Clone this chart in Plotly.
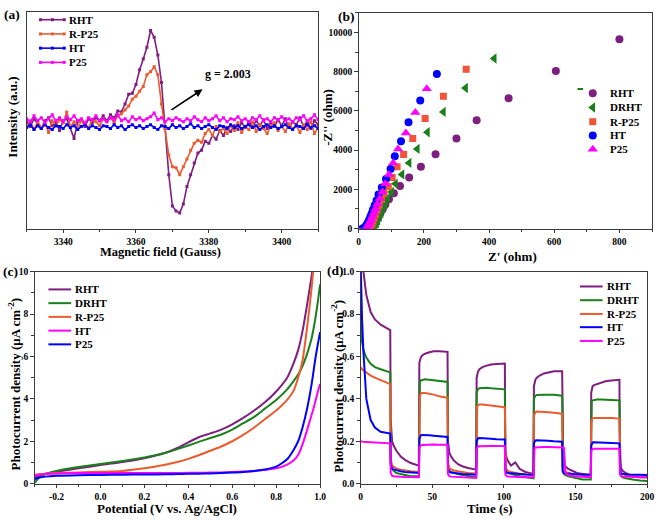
import plotly.graph_objects as go

W, H = 660, 520
FONT = "Liberation Serif"
PURPLE = "#7E1E80"
GREEN = "#1A801A"
ORANGE = "#EC5B2E"
BLUE = "#0000FF"
MAGENTA = "#FF00FF"
AXIS_COLOR = "#3a3a3a"

# ---------------- (a) EPR spectra ----------------
EPR_FIELD = list(range(3330, 3411))
EPR_RHT = [
    0.02, -0.03, 0.05, 0.00, -0.05, 0.03, 0.06, -0.02, 0.01, -0.07,
    0.03, 0.05, -0.04, -0.15, 0.02, 0.04, -0.03, 0.05, 0.01, 0.06,
    0.03, 0.08, 0.03, 0.09, 0.06, 0.13, 0.12, 0.20, 0.30, 0.31,
    0.40, 0.55, 0.66, 0.78, 0.95, 0.88, 0.70, 0.42, -0.05, -0.52,
    -0.84, -0.89, -0.91, -0.82, -0.64, -0.52, -0.40, -0.30, -0.27, -0.18,
    -0.20, -0.12, -0.16, -0.07, -0.12, -0.04, -0.08, -0.02, -0.06, 0.01,
    -0.04, 0.02, -0.03, 0.03, -0.02, 0.04, -0.05, 0.01, -0.03, 0.04,
    -0.02, 0.05, -0.04, 0.02, -0.01, 0.06, -0.03, 0.02, -0.05, 0.03,
    -0.01]
EPR_RP25 = [
    -0.02, 0.03, -0.06, 0.02, -0.04, 0.01, -0.09, 0.03, -0.02, 0.04,
    0.01, 0.12, -0.03, 0.02, -0.05, 0.03, 0.00, -0.04, 0.04, 0.02,
    -0.02, 0.05, 0.02, 0.06, 0.01, 0.08, 0.10, 0.14, 0.18, 0.25,
    0.28, 0.33, 0.38, 0.50, 0.53, 0.58, 0.50, 0.20, -0.05, -0.32,
    -0.44, -0.45, -0.52, -0.44, -0.36, -0.27, -0.20, -0.17, -0.19, -0.10,
    -0.06, -0.12, -0.03, -0.08, -0.05, -0.10, -0.02, -0.07, 0.01, -0.09,
    -0.03, -0.06, 0.02, -0.08, -0.01, -0.05, -0.10, -0.02, 0.01, -0.07,
    -0.03, -0.08, 0.00, -0.05, -0.02, -0.09, -0.01, -0.06, 0.02, -0.10,
    -0.04]
EPR_HT = [
    -0.04, -0.01, -0.06, -0.02, -0.05, -0.01, -0.04, -0.06, -0.02, -0.03,
    -0.05, -0.01, -0.04, -0.02, -0.06, -0.03, -0.01, -0.05, -0.02, -0.04,
    -0.06, -0.02, -0.03, -0.05, -0.01, -0.04, -0.02, -0.06, -0.03, -0.01,
    -0.04, -0.02, -0.05, -0.03, -0.01, -0.04, -0.06, -0.02, -0.03, -0.05,
    -0.01, -0.04, -0.02, -0.05, -0.03, 0.00, -0.04, -0.02, -0.05, -0.03,
    -0.01, -0.04, -0.06, -0.02, -0.03, -0.05, -0.01, -0.04, -0.02, -0.05,
    -0.03, -0.01, -0.04, -0.02, -0.06, -0.03, -0.01, -0.04, -0.02, -0.05,
    -0.03, -0.01, -0.04, -0.06, -0.02, -0.03, -0.05, -0.01, -0.04, -0.02,
    -0.05]
EPR_P25 = [
    0.05, 0.02, 0.08, 0.03, 0.06, 0.01, 0.05, 0.09, 0.03, 0.06,
    0.02, 0.07, 0.04, 0.08, 0.03, 0.05, 0.01, 0.06, 0.04, 0.08,
    0.03, 0.05, 0.02, 0.06, 0.04, 0.09, 0.03, 0.05, 0.02, 0.07,
    0.04, 0.06, 0.03, 0.05, 0.07, 0.11, 0.04, 0.06, 0.02, 0.05,
    0.03, 0.06, 0.04, 0.02, 0.05, 0.03, 0.07, 0.04, 0.02, 0.06,
    0.03, 0.05, 0.08, 0.03, 0.06, 0.02, 0.05, 0.04, 0.07, 0.03,
    0.05, 0.02, 0.06, 0.04, 0.08, 0.03, 0.05, 0.02, 0.06, 0.04,
    0.07, 0.03, 0.05, 0.02, 0.06, 0.04, 0.08, 0.03, 0.05, 0.09,
    0.04]
EPR_X_TICKS = [3340, 3360, 3380, 3400]

# ---------------- (b) Nyquist plots ----------------
NYQ_RHT_X = [800, 605, 460, 362, 300, 236, 191, 155, 127, 108, 93, 82, 74, 67, 61, 56, 52, 48, 45, 42]
NYQ_RHT_Y = [9650, 8030, 6650, 5520, 4600, 3790, 3150, 2600, 2170, 1800, 1500, 1230, 1000, 800, 620, 460, 320, 200, 100, 30]
NYQ_DRHT_X = [416, 328, 260, 211, 180, 155, 133, 113, 101, 90, 82, 75, 69, 64, 59, 55, 51, 48, 46]
NYQ_DRHT_Y = [8670, 7170, 5950, 4910, 4065, 3350, 2765, 2285, 1865, 1550, 1270, 1020, 800, 600, 420, 270, 150, 60, 10]
NYQ_RP25_X = [330, 260, 204, 166, 138, 118, 103, 91, 78, 70, 63, 57, 52, 48, 44, 41, 38, 35, 33]
NYQ_RP25_Y = [8130, 6750, 5620, 4600, 3785, 3150, 2600, 2150, 1785, 1480, 1200, 950, 730, 540, 380, 240, 130, 50, 10]
NYQ_HT_X = [240, 189, 153, 130, 111, 98, 84, 71, 61, 55, 49, 44, 40, 36, 32, 28, 24, 20, 16, 12]
NYQ_HT_Y = [7880, 6530, 5420, 4450, 3685, 3035, 2535, 2100, 1735, 1430, 1180, 960, 770, 600, 440, 300, 180, 80, 20, 0]
NYQ_P25_X = [209, 174, 145, 121, 106, 93, 82, 73, 65, 58, 52, 47, 42, 38, 34, 30, 27, 24]
NYQ_P25_Y = [7130, 5920, 4880, 4065, 3350, 2765, 2285, 1865, 1530, 1250, 1000, 790, 600, 440, 300, 180, 90, 30]
NYQ_STRAY_X = [680]
NYQ_STRAY_Y = [7120]
NYQ_X_TICKS = [0, 200, 400, 600, 800]
NYQ_Y_TICKS = [0, 2000, 4000, 6000, 8000, 10000]

# ---------------- (c) LSV curves ----------------
LSV_V = [-0.3, -0.28, -0.25, -0.2, -0.1, 0.0, 0.1, 0.2, 0.3, 0.35, 0.4, 0.45, 0.5, 0.55, 0.6,
         0.65, 0.7, 0.75, 0.8, 0.85, 0.88, 0.9, 0.92, 0.94, 0.96, 0.97, 0.98, 0.99, 1.0]
LSV_RHT = [0.28, 0.36, 0.47, 0.56, 0.72, 0.88, 1.02, 1.20, 1.47, 1.68, 1.95, 2.20, 2.37, 2.55, 2.80,
           3.10, 3.45, 3.85, 4.35, 5.00, 5.70, 6.30, 7.20, 8.40, 9.70, 10.4, 11.2, 12.2, 13.3]
LSV_DRHT = [0.03, 0.28, 0.45, 0.60, 0.78, 0.93, 1.07, 1.23, 1.47, 1.63, 1.80, 1.98, 2.15, 2.32, 2.55,
            2.85, 3.15, 3.55, 3.95, 4.45, 4.85, 5.15, 5.55, 6.10, 6.80, 7.30, 7.90, 8.60, 9.40]
LSV_RP25 = [0.42, 0.44, 0.47, 0.50, 0.53, 0.56, 0.60, 0.72, 0.90, 1.02, 1.17, 1.35, 1.55, 1.75, 2.00,
            2.30, 2.65, 3.05, 3.45, 3.95, 4.40, 5.00, 5.80, 7.30, 9.10, 10.2, 11.3, 12.5, 13.8]
LSV_HT = [0.38, 0.42, 0.45, 0.48, 0.50, 0.50, 0.50, 0.50, 0.50, 0.50, 0.51, 0.51, 0.52, 0.53, 0.55,
          0.57, 0.60, 0.65, 0.72, 0.90, 1.10, 1.35, 1.85, 2.50, 3.20, 3.55, 3.95, 4.35, 4.70]
LSV_P25 = [0.22, 0.28, 0.33, 0.37, 0.40, 0.41, 0.42, 0.43, 0.44, 0.45, 0.46, 0.47, 0.48, 0.50, 0.52,
           0.55, 0.60, 0.67, 0.80, 1.15, 1.60, 2.00, 2.65, 3.50, 4.60, 5.30, 6.00, 6.60, 7.15]
LSV_X_TICKS = [-0.2, 0.0, 0.2, 0.4, 0.6, 0.8, 1.0]
LSV_X_TEXT = ["-0.2", "0.0", "0.2", "0.4", "0.6", "0.8", "1.0"]
LSV_Y_TICKS = [0, 2, 4, 6, 8, 10]

# ---------------- (d) transient photocurrent ----------------
IT_T = [0, 0.4, 1, 2, 4, 7, 10, 14, 20.7,
        21, 21.5, 22, 23, 25, 28, 31, 35, 40.7,
        41, 41.4, 42, 43, 45, 48, 51, 55, 60.7,
        61, 61.5, 62, 63, 65, 68, 71, 75, 80.7,
        81, 81.4, 82, 83, 85, 88, 91, 95, 100.7,
        101, 101.5, 102, 103, 105, 108, 111, 115, 120.7,
        121, 121.4, 122, 123, 125, 128, 131, 135, 140.7,
        141, 141.5, 142, 143, 145, 148, 151, 155, 160.7,
        161, 161.4, 162, 163, 165, 168, 171, 175, 180.7,
        181, 181.5, 182, 183, 185, 188, 191, 195, 200]
IT_RHT = [1.30, 1.20, 1.10, 1.00, 0.89, 0.81, 0.775, 0.75, 0.725,
          0.30, 0.22, 0.20, 0.18, 0.155, 0.128, 0.112, 0.097, 0.085,
          0.57, 0.585, 0.595, 0.605, 0.613, 0.62, 0.625, 0.625, 0.622,
          0.20, 0.16, 0.145, 0.13, 0.11, 0.092, 0.082, 0.074, 0.066,
          0.50, 0.52, 0.53, 0.54, 0.55, 0.557, 0.562, 0.565, 0.567,
          0.16, 0.13, 0.12, 0.105, 0.085, 0.10, 0.07, 0.055, 0.045,
          0.46, 0.48, 0.49, 0.50, 0.51, 0.52, 0.525, 0.53, 0.53,
          0.12, 0.10, 0.09, 0.08, 0.07, 0.06, 0.05, 0.045, 0.04,
          0.43, 0.45, 0.46, 0.465, 0.47, 0.478, 0.483, 0.487, 0.49,
          0.10, 0.08, 0.07, 0.06, 0.05, 0.04, 0.035, 0.03, 0.03]
IT_DRHT = [0.78, 0.72, 0.67, 0.63, 0.595, 0.565, 0.55, 0.54, 0.525,
           0.10, 0.08, 0.07, 0.06, 0.05, 0.045, 0.04, 0.035, 0.035,
           0.47, 0.48, 0.487, 0.49, 0.493, 0.49, 0.488, 0.485, 0.48,
           0.09, 0.07, 0.06, 0.055, 0.05, 0.045, 0.04, 0.035, 0.03,
           0.43, 0.44, 0.447, 0.45, 0.452, 0.452, 0.45, 0.448, 0.445,
           0.08, 0.06, 0.055, 0.05, 0.045, 0.04, 0.035, 0.03, 0.025,
           0.40, 0.41, 0.415, 0.418, 0.42, 0.42, 0.42, 0.42, 0.415,
           0.07, 0.05, 0.045, 0.04, 0.035, 0.03, 0.025, 0.02, 0.02,
           0.38, 0.39, 0.393, 0.395, 0.397, 0.397, 0.397, 0.395, 0.393,
           0.06, 0.04, 0.035, 0.03, 0.025, 0.02, 0.018, 0.015, 0.012]
IT_RP25 = [0.55, 0.545, 0.54, 0.535, 0.525, 0.51, 0.50, 0.49, 0.47,
           0.12, 0.095, 0.085, 0.08, 0.072, 0.066, 0.062, 0.058, 0.055,
           0.40, 0.415, 0.423, 0.428, 0.428, 0.425, 0.42, 0.412, 0.405,
           0.10, 0.08, 0.072, 0.068, 0.062, 0.058, 0.055, 0.05, 0.048,
           0.35, 0.365, 0.37, 0.373, 0.374, 0.372, 0.37, 0.365, 0.36,
           0.09, 0.07, 0.065, 0.06, 0.055, 0.05, 0.047, 0.044, 0.042,
           0.32, 0.332, 0.337, 0.34, 0.34, 0.338, 0.337, 0.334, 0.33,
           0.08, 0.065, 0.06, 0.055, 0.05, 0.046, 0.043, 0.04, 0.038,
           0.295, 0.305, 0.308, 0.31, 0.31, 0.31, 0.312, 0.31, 0.307,
           0.07, 0.055, 0.05, 0.045, 0.04, 0.037, 0.034, 0.032, 0.03]
IT_HT = [1.05, 0.90, 0.78, 0.62, 0.40, 0.30, 0.265, 0.245, 0.236,
         0.09, 0.075, 0.07, 0.067, 0.063, 0.058, 0.055, 0.053, 0.05,
         0.21, 0.222, 0.228, 0.23, 0.23, 0.228, 0.226, 0.224, 0.22,
         0.07, 0.06, 0.055, 0.052, 0.05, 0.047, 0.045, 0.044, 0.042,
         0.20, 0.21, 0.214, 0.215, 0.215, 0.213, 0.212, 0.21, 0.208,
         0.065, 0.055, 0.052, 0.05, 0.048, 0.046, 0.045, 0.043, 0.042,
         0.19, 0.20, 0.204, 0.205, 0.205, 0.204, 0.202, 0.20, 0.198,
         0.06, 0.052, 0.05, 0.048, 0.046, 0.045, 0.044, 0.043, 0.042,
         0.18, 0.19, 0.194, 0.195, 0.195, 0.194, 0.193, 0.192, 0.19,
         0.06, 0.05, 0.047, 0.045, 0.044, 0.043, 0.042, 0.042, 0.041]
IT_P25 = [0.20, 0.20, 0.198, 0.197, 0.196, 0.195, 0.194, 0.192, 0.19,
          0.05, 0.04, 0.037, 0.035, 0.033, 0.032, 0.031, 0.03, 0.03,
          0.17, 0.178, 0.18, 0.182, 0.183, 0.184, 0.185, 0.184, 0.183,
          0.045, 0.038, 0.035, 0.033, 0.032, 0.03, 0.029, 0.028, 0.027,
          0.165, 0.172, 0.175, 0.176, 0.177, 0.178, 0.178, 0.178, 0.177,
          0.045, 0.038, 0.035, 0.034, 0.033, 0.032, 0.031, 0.03, 0.03,
          0.16, 0.167, 0.17, 0.171, 0.172, 0.173, 0.173, 0.173, 0.172,
          0.171, 0.17, 0.168, 0.05, 0.04, 0.036, 0.034, 0.032, 0.03,
          0.155, 0.162, 0.164, 0.165, 0.165, 0.166, 0.166, 0.166, 0.165,
          0.045, 0.037, 0.035, 0.033, 0.032, 0.031, 0.03, 0.03, 0.03]
IT_X_TICKS = [0, 50, 100, 150, 200]
IT_Y_TICKS = [0.0, 0.2, 0.4, 0.6, 0.8, 1.0]

# ---------------- figure ----------------
fig = go.Figure()


def xdom(p0, p1):
    return [p0 / W, p1 / W]


def ydom(top, bottom):
    return [1 - bottom / H, 1 - top / H]


# (a)
for name, vals, color in [("RHT", EPR_RHT, PURPLE), ("R-P25", EPR_RP25, ORANGE),
                          ("HT", EPR_HT, BLUE), ("P25", EPR_P25, MAGENTA)]:
    fig.add_trace(go.Scatter(x=EPR_FIELD, y=vals, mode="lines+markers", name=name,
                             line=dict(color=color, width=1.6),
                             marker=dict(symbol="square", size=3, color=color),
                             xaxis="x", yaxis="y", showlegend=False))

# (b)
NYQ_SERIES = [("RHT", NYQ_RHT_X, NYQ_RHT_Y, PURPLE, "circle", 8),
              ("DRHT", NYQ_DRHT_X, NYQ_DRHT_Y, GREEN, "triangle-left", 9),
              ("R-P25", NYQ_RP25_X, NYQ_RP25_Y, "#F0553A", "square", 7),
              ("HT", NYQ_HT_X, NYQ_HT_Y, BLUE, "circle", 8),
              ("P25", NYQ_P25_X, NYQ_P25_Y, MAGENTA, "triangle-up", 9)]
for name, xs, ys, color, sym, size in NYQ_SERIES:
    fig.add_trace(go.Scatter(x=xs, y=ys, mode="markers", name=name,
                             marker=dict(symbol=sym, size=size, color=color, line=dict(width=0)),
                             xaxis="x2", yaxis="y2", showlegend=False))
fig.add_trace(go.Scatter(x=NYQ_STRAY_X, y=NYQ_STRAY_Y, mode="markers",
                         marker=dict(symbol="line-ew", size=4, line=dict(color=GREEN, width=2)),
                         xaxis="x2", yaxis="y2", showlegend=False))

# (c)
LSV_SERIES = [("RHT", LSV_RHT, PURPLE), ("DRHT", LSV_DRHT, GREEN), ("R-P25", LSV_RP25, ORANGE),
              ("HT", LSV_HT, MAGENTA), ("P25", LSV_P25, BLUE)]
for name, vals, color in LSV_SERIES:
    fig.add_trace(go.Scatter(x=LSV_V, y=vals, mode="lines", name=name,
                             line=dict(color=color, width=2, shape="spline", smoothing=0.6),
                             xaxis="x3", yaxis="y3", showlegend=False))

# (d)
IT_SERIES = [("RHT", IT_RHT, PURPLE), ("DRHT", IT_DRHT, GREEN), ("R-P25", IT_RP25, ORANGE),
             ("HT", IT_HT, BLUE), ("P25", IT_P25, MAGENTA)]
for name, vals, color in IT_SERIES:
    fig.add_trace(go.Scatter(x=IT_T, y=vals, mode="lines", name=name,
                             line=dict(color=color, width=2),
                             xaxis="x4", yaxis="y4", showlegend=False))

# ---------------- manual legends (pixel overlay axis) ----------------
LEG_FONT = dict(family=FONT, size=11, color="black", weight="bold")
annotations = []


def legend_text(x, y, text):
    annotations.append(dict(x=x, y=y, xref="x5", yref="y5", text=text, showarrow=False,
                            xanchor="left", yanchor="middle", font=LEG_FONT))


rows_a = [15, 29.5, 44, 58.5]
for (name, color), ry in zip([("RHT", PURPLE), ("R-P25", ORANGE), ("HT", BLUE), ("P25", MAGENTA)], rows_a):
    fig.add_trace(go.Scatter(x=[39, 51, 63], y=[ry, ry, ry], mode="lines+markers",
                             line=dict(color=color, width=1.6),
                             marker=dict(symbol="square", size=3, color=color),
                             xaxis="x5", yaxis="y5", showlegend=False, hoverinfo="skip"))
    legend_text(66, ry, name)

rows_b = [90, 104.5, 119, 133, 147]
for (name, xs, ys, color, sym, size), ry in zip(NYQ_SERIES, rows_b):
    fig.add_trace(go.Scatter(x=[598], y=[ry], mode="markers",
                             marker=dict(symbol=sym, size=size, color=color, line=dict(width=0)),
                             xaxis="x5", yaxis="y5", showlegend=False, hoverinfo="skip"))
    legend_text(613, ry, name)

rows_c = [290, 304, 318, 332, 346]
for (name, vals, color), ry in zip(LSV_SERIES, rows_c):
    fig.add_trace(go.Scatter(x=[47, 70], y=[ry, ry], mode="lines", line=dict(color=color, width=2),
                             xaxis="x5", yaxis="y5", showlegend=False, hoverinfo="skip"))
    legend_text(72, ry, name)

rows_d = [287, 301, 315, 328.5, 342.5]
for (name, vals, color), ry in zip(IT_SERIES, rows_d):
    fig.add_trace(go.Scatter(x=[585, 608], y=[ry, ry], mode="lines", line=dict(color=color, width=2),
                             xaxis="x5", yaxis="y5", showlegend=False, hoverinfo="skip"))
    legend_text(610, ry, name)

# ---------------- text annotations ----------------
TITLE_FONT = dict(family=FONT, size=13, color="black", weight="bold")
PANEL_FONT = dict(family=FONT, size=13.5, color="black", weight="bold")


def text(x, y, t, font, angle=0, xanchor="center"):
    annotations.append(dict(x=x, y=y, xref="x5", yref="y5", text=t, showarrow=False,
                            xanchor=xanchor, yanchor="middle", textangle=angle, font=font))


text(10, 10, "(a)", PANEL_FONT)
text(349, 12, "(b)", PANEL_FONT)
text(9, 272, "(c)", PANEL_FONT)
text(338, 271, "(d)", PANEL_FONT)

text(11, 114, "Intensity (a.u.)", TITLE_FONT, -90)
text(160, 252, "Magnetic field (Gauss)", dict(TITLE_FONT, size=12.5))
text(330, 115, "-Z'' (ohm)", TITLE_FONT, -90)
text(517, 256, "Z' (ohm)", TITLE_FONT)
text(12, 386, "Photocurrent density (μA cm<sup>-2</sup>)", TITLE_FONT, -90)
text(167, 513, "Potential (V vs. Ag/AgCl)", TITLE_FONT)
text(339, 388, "Photocurrent density (μA cm<sup>-2</sup>)", TITLE_FONT, -90)
text(494, 513, "Time (s)", TITLE_FONT)

text(229, 70, "g = 2.003", dict(family=FONT, size=12, color="black", weight="bold"))
annotations.append(dict(x=203, y=86, xref="x5", yref="y5", ax=170, ay=108, axref="x5", ayref="y5",
                        text="", showarrow=True, arrowhead=2, arrowsize=1, arrowwidth=1.6,
                        arrowcolor="black"))

# ---------------- axes ----------------
TICK_FONT = dict(family=FONT, size=9.5, color="black", weight="bold")
base = dict(showline=True, linecolor=AXIS_COLOR, linewidth=1, mirror=True, showgrid=False,
            zeroline=False, ticks="outside", ticklen=3.5, tickwidth=1, tickcolor=AXIS_COLOR,
            tickfont=TICK_FONT, fixedrange=True)

fig.update_layout(
    width=W, height=H, margin=dict(l=0, r=0, t=0, b=0),
    paper_bgcolor="white", plot_bgcolor="rgba(0,0,0,0)", showlegend=False,
    xaxis=dict(base, domain=xdom(25, 320), range=[3330, 3410], anchor="y",
               tickvals=EPR_X_TICKS,
               minor=dict(ticks="outside", ticklen=2.5, tick0=3330, dtick=10, tickcolor=AXIS_COLOR)),
    yaxis=dict(base, domain=ydom(7, 228), range=[-1.07, 1.14], anchor="x",
               showticklabels=False, ticks=""),
    xaxis2=dict(base, domain=xdom(361, 658), range=[0, 900], anchor="y2",
                tickvals=NYQ_X_TICKS,
                minor=dict(ticks="outside", ticklen=2.5, tick0=0, dtick=100, tickcolor=AXIS_COLOR)),
    yaxis2=dict(base, domain=ydom(8, 228), range=[0, 11000], anchor="x2",
                tickvals=NYQ_Y_TICKS, ticktext=[str(v) for v in NYQ_Y_TICKS],
                minor=dict(ticks="outside", ticklen=2.5, tick0=0, dtick=1000, tickcolor=AXIS_COLOR)),
    xaxis3=dict(base, domain=xdom(33, 322), range=[-0.3, 1.0], anchor="y3",
                tickvals=LSV_X_TICKS, ticktext=LSV_X_TEXT,
                minor=dict(ticks="outside", ticklen=2.5, tick0=0, dtick=0.1, tickcolor=AXIS_COLOR)),
    yaxis3=dict(base, domain=ydom(272, 488), range=[0, 10], anchor="x3",
                tickvals=LSV_Y_TICKS,
                minor=dict(ticks="outside", ticklen=2.5, tick0=0, dtick=1, tickcolor=AXIS_COLOR)),
    xaxis4=dict(base, domain=xdom(363, 653), range=[0, 200], anchor="y4",
                tickvals=IT_X_TICKS,
                minor=dict(ticks="outside", ticklen=2.5, tick0=0, dtick=25, tickcolor=AXIS_COLOR)),
    yaxis4=dict(base, domain=ydom(272, 488), range=[0, 1.0], anchor="x4",
                tickvals=IT_Y_TICKS, tickformat=".1f",
                minor=dict(ticks="outside", ticklen=2.5, tick0=0, dtick=0.1, tickcolor=AXIS_COLOR)),
    xaxis5=dict(domain=[0, 1], range=[0, W], anchor="y5", visible=False, fixedrange=True),
    yaxis5=dict(domain=[0, 1], range=[H, 0], anchor="x5", visible=False, fixedrange=True),
    annotations=annotations,
)

fig.write_html("out.html", config={"displayModeBar": False},
               post_script="document.body.style.margin='0px';document.body.style.overflow='hidden';")
